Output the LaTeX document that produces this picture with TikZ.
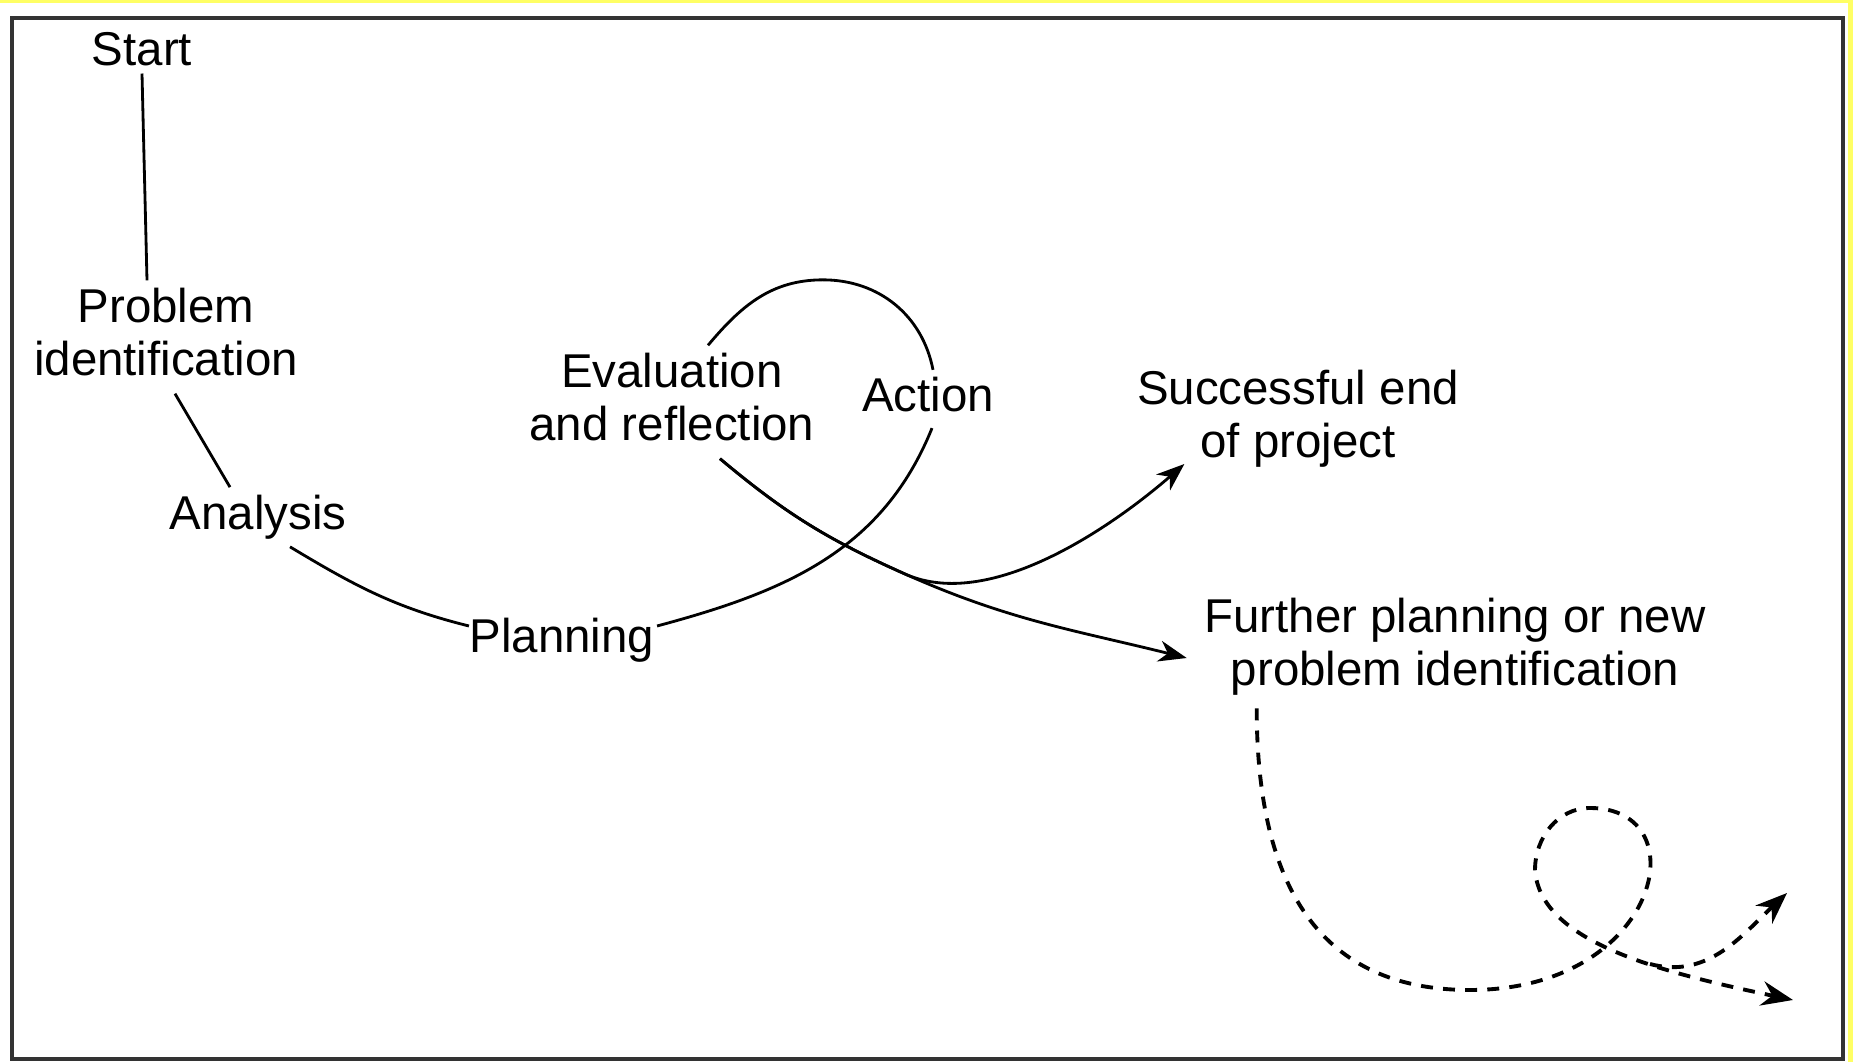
\documentclass[tikz,border=0pt]{standalone}
\usepackage{fontspec}
\setmainfont{Liberation Sans}
\usetikzlibrary{arrows.meta}
\definecolor{hlyellow}{RGB}{255,255,100}

\begin{document}
\begin{tikzpicture}[
    every node/.style={font=\fontsize{13.5}{15.1}\selectfont, inner sep=2pt, align=center}, % one font for all labels
    frame/.style={black!80, line width=0.9pt}, % outer frame
    flow/.style={black, line width=0.8pt}, % solid path of the cycle
    flowarr/.style={flow, -{Stealth[length=8pt, width=6pt, inset=2.5pt]}}, % solid path ending in a tip
    dflow/.style={black, line width=1.1pt, dash pattern=on 3.4pt off 2.9pt,
                  -{Stealth[length=9pt, width=7pt, inset=3pt]}} % dashed repeat
]
    % 1. page, yellow edge and frame
    \useasboundingbox (0,0) rectangle (18.53,10.62);
    \fill[hlyellow] (0,0) rectangle (18.53,10.62);
    \fill[white] (0,0) rectangle (18.48,10.585);
    \draw[frame] (0.12,0.03) rectangle (18.43,10.44);

    % 2. stages of the cycle
    \node (start) at (1.42,10.13) {Start};
    \node (prob) at (1.66,7.30) {Problem\\identification};
    \node (ana) at (2.58,5.45) {Analysis};
    \node (plan) at (5.62,4.22) {Planning};
    \node (eval) at (6.72,6.65) {Evaluation\\and reflection};
    \node (act) at (9.28,6.67) {Action};
    \node (succ) at (12.98,6.43) {Successful end\\of project};
    \node (further) at (14.55,4.15) {Further planning or new\\problem identification};

    % 3. solid path: start -> ... -> evaluation, then the two ways out
    \draw[flow] (start.south) -- ([xshift=-0.19cm]prob.north);
    \draw[flow] ([xshift=0.09cm,yshift=-0.1cm]prob.south) -- ([xshift=-0.28cm]ana.north);
    \draw[flow] ([xshift=0.32cm]ana.south) to[out=-31,in=166] ([xshift=0.07cm,yshift=0.14cm]plan.west);
    \draw[flow] ([xshift=-0.05cm,yshift=0.14cm]plan.east) to[out=15,in=248] ([xshift=0.04cm,yshift=-0.08cm]act.south);
    \draw[flow] ([xshift=0.05cm]act.north) to[out=101,in=0] ++(-1.1,0.9)
        to[out=180,in=50] ([xshift=0.36cm]eval.north); % loop over the top
    \coordinate (split) at (9.05,4.88); % where the two ways part
    \draw[flowarr] ([xshift=0.48cm,yshift=-0.1cm]eval.south) to[out=-40,in=156] (split)
        to[out=-24,in=166] ([xshift=-0.1cm,yshift=-0.11cm]further.west);
    \draw[flowarr] ([xshift=0.48cm,yshift=-0.1cm]eval.south) to[out=-40,in=156] (split)
        to[out=-24,in=221,looseness=0.8] ([xshift=0.55cm,yshift=-0.45cm]succ.west);

    % 4. dashed repeat of the cycle
    \coordinate (dbot) at (14.70,0.72);
    \coordinate (dtop) at (15.90,2.54);
    \coordinate (dleft) at (15.35,1.92);
    \coordinate (dsplit) at (16.50,0.98);
    \coordinate (dnextA) at (17.87,1.69);
    \coordinate (dnextB) at (17.93,0.62);
    \draw[dflow] ([xshift=0.6cm,yshift=-0.05cm]further.south west) .. controls +(0,-1.64) and +(-1.6,0) .. (dbot)
        .. controls +(1.9,0) and +(1.1,0) .. (dtop) to[out=180,in=90] (dleft)
        .. controls +(0.05,-0.72) and +(-1.33,0.28) .. (dnextB);
    \draw[dflow] (dsplit) to[out=-15,in=223] (dnextA);

\end{tikzpicture}
\end{document}
